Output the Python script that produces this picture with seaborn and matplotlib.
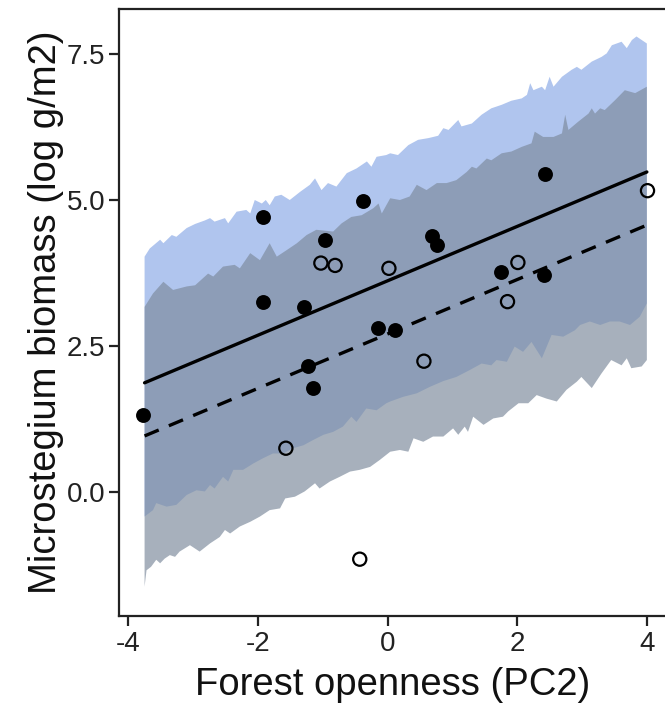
import numpy as np
import pandas as pd
import matplotlib
matplotlib.use("Agg")
import matplotlib.pyplot as plt
import seaborn as sns

# ---------------- data ----------------
# upper / lower edges of the prediction band for the "filled" group (blue)
blue_upper_x = [-3.75, -3.67, -3.51, -3.46, -3.33, -3.26, -3.10, -2.97, -2.82, -2.74, -2.67, -2.51,
                -2.46, -2.33, -2.18, -2.12, -2.05, -1.94, -1.88, -1.82, -1.74, -1.64, -1.51, -1.35,
                -1.20, -1.12, -1.02, -0.92, -0.79, -0.63, -0.48, -0.32, -0.25, -0.17, -0.02, 0.04,
                0.16, 0.32, 0.47, 0.63, 0.78, 0.86, 0.94, 1.09, 1.14, 1.30, 1.45, 1.60, 1.76, 1.91,
                2.07, 2.15, 2.20, 2.25, 2.38, 2.43, 2.50, 2.56, 2.69, 2.84, 2.92, 2.99, 3.15, 3.30,
                3.38, 3.46, 3.61, 3.69, 3.77, 3.84, 4.00]
blue_upper_y = [4.03, 4.17, 4.32, 4.26, 4.40, 4.37, 4.52, 4.59, 4.65, 4.69, 4.63, 4.69,
                4.60, 4.80, 4.83, 4.77, 5.00, 4.94, 5.00, 4.91, 5.06, 5.09, 5.00, 5.14,
                5.26, 5.37, 5.17, 5.29, 5.23, 5.46, 5.54, 5.66, 5.57, 5.74, 5.77, 5.80,
                5.77, 5.94, 6.03, 6.06, 6.10, 6.23, 6.20, 6.37, 6.26, 6.31, 6.46, 6.57, 6.63, 6.70,
                6.74, 6.80, 7.00, 6.88, 6.94, 6.88, 7.11, 6.94, 7.11, 7.23, 7.28, 7.23, 7.37, 7.45,
                7.51, 7.65, 7.71, 7.60, 7.74, 7.80, 7.68]
blue_lower_x = [-3.75, -3.62, -3.57, -3.41, -3.26, -3.10, -2.95, -2.82, -2.74, -2.67, -2.54, -2.46,
                -2.38, -2.23, -2.07, -1.92, -1.77, -1.61, -1.46, -1.30, -1.15, -0.99, -0.84, -0.69,
                -0.56, -0.48, -0.33, -0.17, -0.02, 0.04, 0.24, 0.45, 0.65, 0.86, 1.06, 1.27, 1.45,
                1.60, 1.68, 1.84, 1.96, 2.09, 2.22, 2.38, 2.53, 2.71, 2.89, 2.97, 3.12, 3.28, 3.43,
                3.58, 3.74, 3.89, 4.00]
blue_lower_y = [-0.42, -0.31, -0.19, -0.25, -0.22, -0.05, 0.03, 0.01, 0.12, 0.06, 0.26, 0.18,
                0.38, 0.38, 0.49, 0.58, 0.66, 0.66, 0.75, 0.80, 0.89, 0.98, 1.03, 1.12,
                1.29, 1.20, 1.43, 1.40, 1.52, 1.55, 1.63, 1.69, 1.80, 1.90, 1.97, 2.09, 2.20,
                2.17, 2.26, 2.23, 2.49, 2.40, 2.57, 2.29, 2.69, 2.66, 2.77, 2.86, 2.92, 2.86, 2.92,
                2.92, 2.86, 3.00, 3.23]

# upper / lower edges of the prediction band for the "open" group (grey)
grey_upper_x = [-3.75, -3.62, -3.46, -3.31, -3.10, -2.97, -2.77, -2.69, -2.54, -2.36, -2.28, -2.12,
                -1.97, -1.82, -1.71, -1.56, -1.40, -1.25, -1.10, -0.84, -0.71, -0.56, -0.40, -0.22,
                -0.14, -0.09, 0.04, 0.19, 0.34, 0.45, 0.60, 0.76, 0.91, 1.06, 1.22, 1.30, 1.37,
                1.53, 1.60, 1.76, 1.91, 2.07, 2.22, 2.27, 2.40, 2.56, 2.69, 2.74, 2.79, 2.94, 3.10,
                3.15, 3.20, 3.28, 3.35, 3.51, 3.66, 3.82, 4.00]
grey_upper_y = [3.17, 3.40, 3.60, 3.46, 3.52, 3.54, 3.74, 3.69, 3.86, 3.89, 3.83, 4.09,
                3.97, 4.26, 4.03, 4.14, 4.26, 4.40, 4.49, 4.46, 4.60, 4.71, 4.74, 4.86,
                4.94, 4.77, 5.03, 5.00, 5.06, 5.26, 5.17, 5.29, 5.29, 5.34, 5.48, 5.57, 5.54,
                5.71, 5.68, 5.80, 5.83, 5.91, 5.97, 6.17, 6.08, 6.08, 6.14, 6.46, 6.20, 6.34, 6.48,
                6.57, 6.48, 6.57, 6.54, 6.71, 6.88, 6.83, 6.94]
grey_lower_x = [-3.75, -3.72, -3.65, -3.57, -3.51, -3.44, -3.36, -3.28, -3.21, -3.05, -2.90, -2.74,
                -2.59, -2.51, -2.43, -2.28, -2.12, -1.97, -1.82, -1.66, -1.58, -1.43, -1.28, -1.12,
                -1.05, -0.89, -0.74, -0.58, -0.43, -0.27, -0.12, 0.04, 0.19, 0.32, 0.40, 0.55, 0.70,
                0.86, 1.01, 1.09, 1.19, 1.24, 1.32, 1.48, 1.63, 1.78, 1.86, 2.02, 2.17, 2.30, 2.45,
                2.61, 2.76, 2.92, 2.99, 3.15, 3.30, 3.45, 3.61, 3.69, 3.76, 3.92, 4.00]
grey_lower_y = [-1.62, -1.34, -1.28, -1.16, -1.22, -1.14, -1.08, -1.11, -1.02, -0.91, -1.02, -0.88,
                -0.77, -0.65, -0.71, -0.59, -0.51, -0.42, -0.31, -0.28, -0.11, -0.08, 0.01, 0.15,
                0.06, 0.18, 0.26, 0.35, 0.38, 0.43, 0.55, 0.69, 0.72, 0.69, 0.92, 0.86, 0.95,
                0.95, 1.09, 0.98, 1.12, 1.03, 1.29, 1.15, 1.26, 1.29, 1.38, 1.52, 1.52, 1.66, 1.60,
                1.55, 1.75, 1.89, 1.97, 1.78, 2.03, 2.26, 2.17, 2.29, 2.12, 2.15, 2.26]

# fitted lines
line_x = [-3.75, 4.00]
solid_line_y = [1.87, 5.48]
dashed_line_y = [0.96, 4.57]

# observations
filled_x = [-3.77, -1.92, -1.92, -1.29, -0.97, -0.38, -1.23, -1.15, -0.15, 0.11, 0.69, 0.76, 1.75, 2.43, 2.41]
filled_y = [1.32, 4.71, 3.25, 3.16, 4.32, 4.99, 2.15, 1.78, 2.80, 2.77, 4.38, 4.23, 3.76, 5.45, 3.72]
open_x = [-1.57, -0.43, -1.03, -0.81, 0.02, 0.56, 1.85, 2.01, 4.01]
open_y = [0.75, -1.15, 3.92, 3.88, 3.83, 2.24, 3.26, 3.93, 5.16]

x_ticks = [-4, -2, 0, 2, 4]
y_ticks = [0.0, 2.5, 5.0, 7.5]
x_label = "Forest openness (PC2)"
y_label = "Microstegium biomass (log g/m2)"

# ---------------- plotting ----------------
sns.set_style("ticks")
plt.rcParams["font.family"] = ["Liberation Sans", "DejaVu Sans"]
plt.rcParams["axes.unicode_minus"] = False

fig = plt.figure(figsize=(6.65, 7.11), dpi=100)
ax = fig.add_axes([0.1794, 0.1336, 0.8206, 0.8537])

# bands
bx = np.r_[blue_upper_x, blue_lower_x[::-1]]
by = np.r_[blue_upper_y, blue_lower_y[::-1]]
ax.fill(bx, by, color=(176/255, 197/255, 238/255), lw=0, zorder=1)
gx = np.r_[grey_upper_x, grey_lower_x[::-1]]
gy = np.r_[grey_upper_y, grey_lower_y[::-1]]
ax.fill(gx, gy, color=(125/255, 139/255, 157/255), alpha=0.68, lw=0, zorder=2)

# lines
lines = pd.DataFrame({"x": line_x, "solid": solid_line_y, "dashed": dashed_line_y})
sns.lineplot(data=lines, x="x", y="solid", ax=ax, color="black", lw=2.4, zorder=3)
sns.lineplot(data=lines, x="x", y="dashed", ax=ax, color="black", lw=2.4, zorder=3)
ax.lines[-1].set_dashes((4.6, 3.3))

# points
filled = pd.DataFrame({"x": filled_x, "y": filled_y})
opened = pd.DataFrame({"x": open_x, "y": open_y})
sns.scatterplot(data=filled, x="x", y="y", ax=ax, color="black", s=115, linewidth=0, zorder=4)
sns.scatterplot(data=opened, x="x", y="y", ax=ax, facecolor="none", edgecolor="black",
                s=90, linewidth=1.6, zorder=4)

ax.set_xlim(-4.14, 4.28)
ax.set_ylim(-2.123, 8.27)
ax.set_xticks(x_ticks)
ax.set_xticklabels([str(t) for t in x_ticks])
ax.set_yticks(y_ticks)
ax.set_yticklabels([f"{t:.1f}" for t in y_ticks])
ax.tick_params(axis="both", length=7, width=1.6, color="#222222", labelsize=20,
               labelcolor="#222222", pad=3)
ax.tick_params(axis="x", pad=4)
for side in ["left", "top", "bottom"]:
    ax.spines[side].set_linewidth(1.6)
    ax.spines[side].set_color("#222222")
ax.spines["right"].set_visible(False)
ax.set_xlabel(x_label, fontsize=27.5, color="#111111", labelpad=7)
ax.set_ylabel(y_label, fontsize=27.5, color="#111111", labelpad=2)

fig.savefig("out.png", dpi=100)
